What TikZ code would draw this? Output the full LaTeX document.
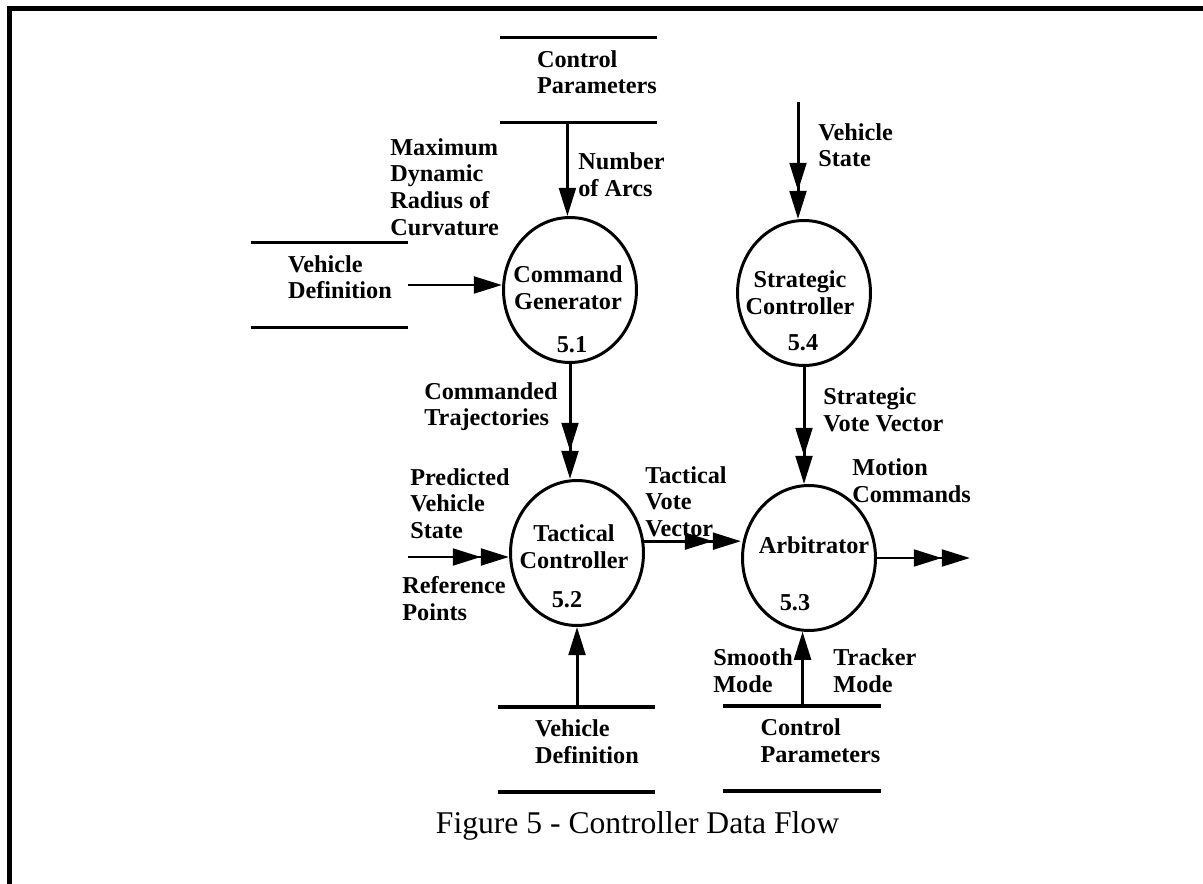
\documentclass[tikz,border=0pt]{standalone}
\usepackage{fontspec}
\setmainfont{Liberation Serif}
\usetikzlibrary{arrows.meta, shapes.geometric}

\begin{document}
\begin{tikzpicture}[x=0.02cm, y=-0.02cm,
    lbl/.style={font=\fontsize{13.8}{15.1}\selectfont\bfseries, align=left, inner sep=0pt, anchor=west},
    ptext/.style={font=\fontsize{13.8}{15.1}\selectfont\bfseries, align=center, inner sep=0pt},
    proc/.style={ellipse, draw, line width=1.7pt, minimum width=2.66cm, minimum height=2.9cm, inner sep=0pt},
    store/.style={minimum width=3.14cm, minimum height=1.68cm, inner sep=0pt},
    storeline/.style={line width=1.9pt},
    flow/.style={line width=1.7pt, -{Triangle[length=16pt,width=9.5pt]}},
    multi/.style={line width=1.7pt, -{Triangle[length=16pt,width=9.5pt]Triangle[length=16pt,width=9.5pt]}}]

    \useasboundingbox (0,0) rectangle (1203,884);
    \draw [line width=2.6pt] (9.5,884) -- (9.5,8.5) -- (1203,8.5);

    \node [proc] (cg) at (570,290) {};
    \node [proc] (sc) at (804,293) {};
    \node [proc] (tc) at (577,553) {};
    \node [proc] (arb) at (809,558) {};

    \node [ptext] (cgTxt) at (568,287.5) {Command\\Generator};
    \node [ptext] (cgNum) at (572,345) {5.1};
    \node [ptext] (scTxt) at (800,292.5) {Strategic\\Controller};
    \node [ptext] (scNum) at (803,343) {5.4};
    \node [ptext] (tcTxt) at (574,546.5) {Tactical\\Controller};
    \node [ptext] (tcNum) at (567,600) {5.2};
    \node [ptext] (arbTxt) at (814,545) {Arbitrator};
    \node [ptext] (arbNum) at (795,603) {5.3};

    \node [store] (cpTop) at (578.5,80) {};
    \node [store] (vdLeft) at (329.5,285) {};
    \node [store] (vdBot) at (576.5,749.5) {};
    \node [store] (cpBot) at (802,748.5) {};
    \foreach \s in {cpTop,vdLeft,vdBot,cpBot}
        \draw [storeline] (\s.north west) -- (\s.north east) (\s.south west) -- (\s.south east);

    \node [lbl] (cpTopTxt) at ([xshift=0.74cm,yshift=0.16cm]cpTop.west) {Control\\Parameters};
    \node [lbl] (vdLeftTxt) at ([xshift=0.74cm,yshift=0.16cm]vdLeft.west) {Vehicle\\Definition};
    \node [lbl] (vdBotTxt) at ([xshift=0.74cm,yshift=0.16cm]vdBot.west) {Vehicle\\Definition};
    \node [lbl] (cpBotTxt) at ([xshift=0.74cm,yshift=0.16cm]cpBot.west) {Control\\Parameters};

    \coordinate (vsIn) at (798,102);
    \coordinate (tcIn) at (408,557);
    \coordinate (mcOut) at (970,558);

    \path [flow]
        (cpTop.south -| cg.92) edge (cg.92)
        (vdLeft.east) edge (vdLeft.east -| cg.west)
        (vdBot.north -| tc.south) edge (tc.south)
        (cpBot.north -| arb.265) edge (arb.265);
    \path [multi]
        (cg.south) edge (cg.south |- tc.north)
        (vsIn) edge (vsIn |- sc.north)
        (sc.south) edge (sc.south |- arb.north)
        (tcIn) edge (tcIn -| tc.west)
        (tc.10) edge (tc.10 -| arb.west)
        (arb.east) edge (mcOut);

    \node [lbl] (nArcs) at (578,174.5) {Number\\of Arcs};
    \node [lbl] (maxRad) at (390,187) {Maximum\\Dynamic\\Radius of\\Curvature};
    \node [lbl] (cmdTraj) at (424,406.5) {Commanded\\Trajectories};
    \node [lbl] (vehState) at (818,145) {Vehicle\\State};
    \node [lbl] (stratVote) at (823,410) {Strategic\\Vote Vector};
    \node [lbl] (predState) at (410,503.5) {Predicted\\Vehicle\\State};
    \node [lbl] (refPts) at (402,598.5) {Reference\\Points};
    \node [lbl] (tactVote) at (645,501.5) {Tactical\\Vote\\Vector};
    \node [lbl] (motCmd) at (852,480.5) {Motion\\Commands};
    \node [lbl] (smMode) at (713,670.5) {Smooth\\Mode};
    \node [lbl] (trMode) at (833,670.5) {Tracker\\Mode};

    \node [font=\fontsize{18}{20}\selectfont] (caption) at (637.5,826) {Figure 5 - Controller Data Flow};
\end{tikzpicture}
\end{document}
